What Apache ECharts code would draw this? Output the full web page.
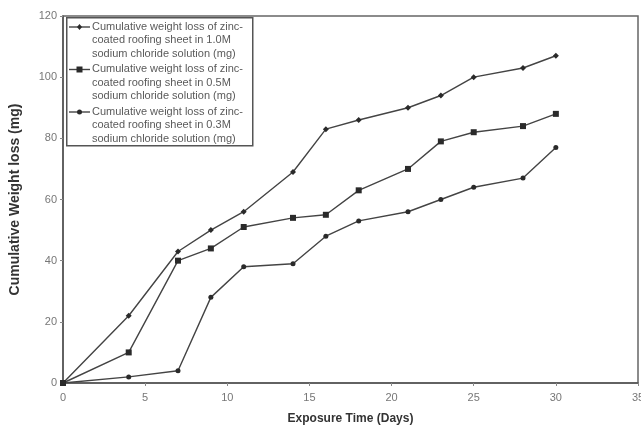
<!DOCTYPE html>
<html>
<head>
<meta charset="utf-8">
<script src="https://cdn.jsdelivr.net/npm/echarts@6/dist/echarts.min.js"></script>
<style>html,body{margin:0;padding:0;background:#fff;}#c{width:641px;height:431px;}</style>
</head>
<body>
<div id="c"></div>
<script>
var days = [0, 4, 7, 9, 11, 14, 16, 18, 21, 23, 25, 28, 30];
var loss10M = [0, 22, 43, 50, 56, 69, 83, 86, 90, 94, 100, 103, 107];
var loss05M = [0, 10, 40, 44, 51, 54, 55, 63, 70, 79, 82, 84, 88];
var loss03M = [0, 2, 4, 28, 38, 39, 48, 53, 56, 60, 64, 67, 77];
var seriesNames = [
  'Cumulative weight loss of zinc-\ncoated roofing sheet in 1.0M\nsodium chloride solution (mg)',
  'Cumulative weight loss of zinc-\ncoated roofing sheet in 0.5M\nsodium chloride solution (mg)',
  'Cumulative weight loss of zinc-\ncoated roofing sheet in 0.3M\nsodium chloride solution (mg)'
];
var seriesSymbols = ['diamond', 'rect', 'circle'];
var xTitle = 'Exposure Time (Days)';
var yTitle = 'Cumulative Weight loss (mg)';

function pairs(ys) { return days.map(function (d, i) { return [d, ys[i]]; }); }

var lineColor = '#444';
var markColor = '#2a2a2a';
function mk(name, ys, symbol, size) {
  return {
    name: name, type: 'line', data: pairs(ys), symbol: symbol, symbolSize: size,
    itemStyle: { color: markColor },
    lineStyle: { color: lineColor, width: 1.4 },
    animation: false
  };
}

// Legend drawn as a framed box (icon aligned with the first text line of each entry)
var legendX = 66, legendY = 17, legendW = 186, legendH = 128, entryStep = 42.5;
var legendGraphics = [{
  type: 'rect', left: legendX, top: legendY, z: 50,
  shape: { width: legendW, height: legendH },
  style: { fill: '#fff', stroke: '#555', lineWidth: 1.5 }
}];
seriesNames.forEach(function (n, i) {
  var cy = legendY + 10 + i * entryStep;
  legendGraphics.push({
    type: 'line', z: 51,
    shape: { x1: 69, y1: cy, x2: 90, y2: cy },
    style: { stroke: lineColor, lineWidth: 1.4 }
  });
  var sym = seriesSymbols[i];
  if (sym === 'diamond') {
    legendGraphics.push({ type: 'polygon', z: 52, shape: { points: [[79.5, cy - 3], [82, cy], [79.5, cy + 3], [77, cy]] }, style: { fill: markColor } });
  } else if (sym === 'rect') {
    legendGraphics.push({ type: 'rect', z: 52, shape: { x: 76.5, y: cy - 3, width: 6, height: 6 }, style: { fill: markColor } });
  } else {
    legendGraphics.push({ type: 'circle', z: 52, shape: { cx: 79.5, cy: cy, r: 2.5 }, style: { fill: markColor } });
  }
  legendGraphics.push({
    type: 'text', z: 52, left: 92, top: cy - 7,
    style: { text: n, fill: '#5a5a5a', font: '11px "Liberation Sans", Arial, sans-serif', lineHeight: 13.5 }
  });
});

var chart = echarts.init(document.getElementById('c'));
chart.setOption({
  backgroundColor: '#ffffff',
  textStyle: { fontFamily: 'Liberation Sans, Arial, sans-serif' },
  grid: { left: 63, right: 3, top: 16, bottom: 48, containLabel: false, outerBoundsMode: 'none', show: true, borderColor: '#666', borderWidth: 1.5, backgroundColor: 'transparent' },
  xAxis: {
    type: 'value', min: 0, max: 35, interval: 5,
    name: xTitle, nameLocation: 'middle', nameGap: 30,
    nameTextStyle: { fontWeight: 'bold', fontSize: 12, color: '#333' },
    axisLine: { lineStyle: { color: '#555', width: 1.5 } },
    axisTick: { show: true, length: 3, lineStyle: { color: '#888' } },
    axisLabel: { color: '#777', fontSize: 11, margin: 9 },
    splitLine: { show: false }
  },
  yAxis: {
    type: 'value', min: 0, max: 120, interval: 20,
    name: yTitle, nameLocation: 'middle', nameGap: 41,
    nameTextStyle: { fontWeight: 'bold', fontSize: 14, color: '#333' },
    axisLine: { show: true, lineStyle: { color: '#555', width: 1.5 } },
    axisTick: { show: true, length: 3, lineStyle: { color: '#888' } },
    axisLabel: { color: '#777', fontSize: 11, margin: 6 },
    splitLine: { show: false }
  },
  graphic: legendGraphics,
  series: [
    mk(seriesNames[0], loss10M, seriesSymbols[0], 6),
    mk(seriesNames[1], loss05M, seriesSymbols[1], 6),
    mk(seriesNames[2], loss03M, seriesSymbols[2], 5)
  ]
});
</script>
</body>
</html>
